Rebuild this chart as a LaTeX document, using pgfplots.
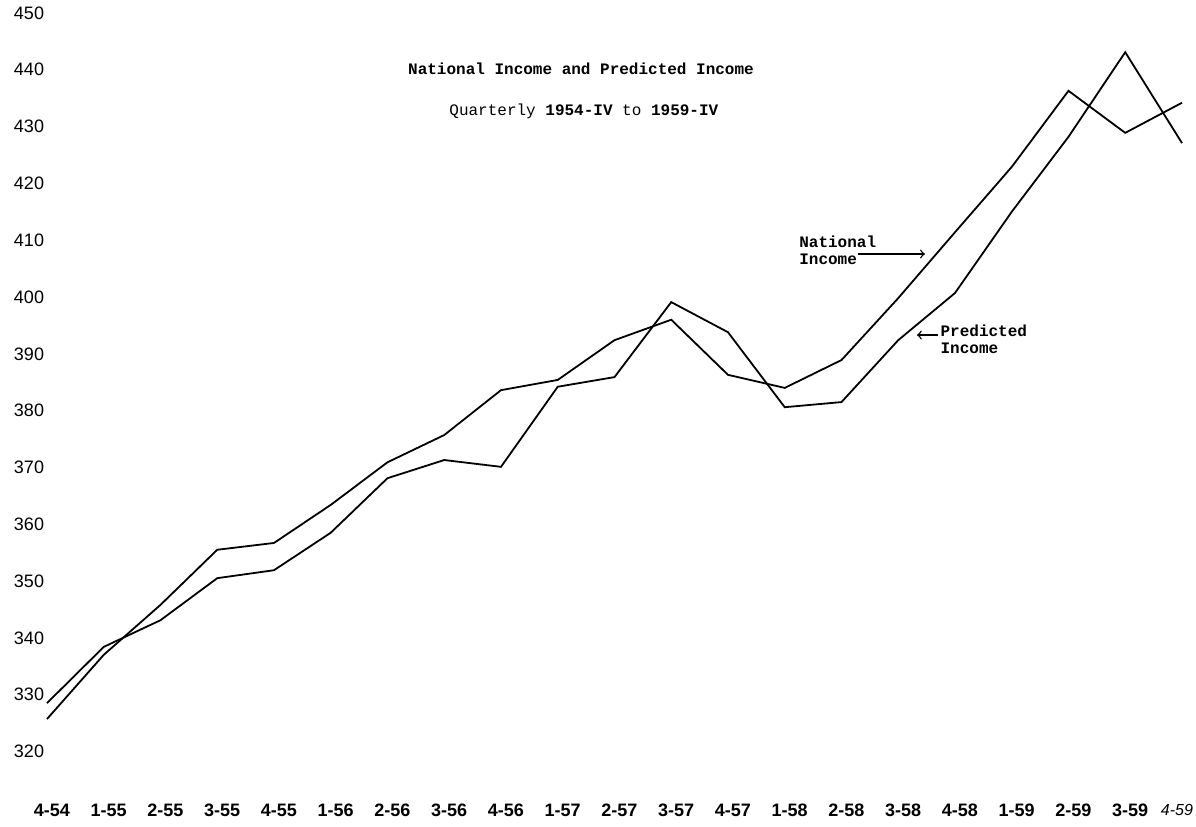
\documentclass[border=0pt]{standalone}
\usepackage{fontspec}
\setmainfont{Liberation Mono}
\newfontfamily\labelfont{Liberation Sans}
\usepackage{pgfplots}
\pgfplotsset{compat=1.18}
\begin{document}
\begin{tikzpicture}
\path[use as bounding box] (0,0) rectangle (598pt,413pt);
\begin{axis}[
  at={(0,0)}, anchor=south west,
  scale only axis, width=598pt, height=413pt,
  xmin=-0.828, xmax=20.247, ymin=306.87, ymax=452.29,
  axis line style={draw=none}, tick style={draw=none}, major tick length=0pt,
  clip=false,
  ytick={320,330,340,350,360,370,380,390,400,410,420,430,440,450},
  yticklabels={320,330,340,350,360,370,380,390,400,410,420,430,440,450},
  yticklabel style={anchor=center, xshift=14.5pt, font=\labelfont\fontsize{9}{10}\selectfont},
  xtick={0,1,2,3,4,5,6,7,8,9,10,11,12,13,14,15,16,17,18,19},
  xticklabels={4-54,1-55,2-55,3-55,4-55,1-56,2-56,3-56,4-56,1-57,2-57,3-57,4-57,1-58,2-58,3-58,4-58,1-59,2-59,3-59},
  xticklabel style={anchor=center, yshift=8pt, xshift=2.5pt, font=\labelfont\bfseries\fontsize{9}{10}\selectfont},
  extra x ticks={20},
  extra x tick labels={4-59},
  extra x tick style={xticklabel style={xshift=-5pt, font=\labelfont\itshape\fontsize{8}{9}\selectfont}},
]
% National Income
\addplot[black, line width=0.9pt, mark=none] coordinates {
(0,325.7) (1,337.0) (2,345.8) (3,355.5) (4,356.7) (5,363.4) (6,370.9) (7,375.7)
(8,383.6) (9,385.4) (10,392.4) (11,396.0) (12,386.3) (13,384.0) (14,388.9)
(15,399.8) (16,411.4) (17,422.9) (18,436.3) (19,428.9) (20,434.2)};
% Predicted Income
\addplot[black, line width=0.9pt, mark=none] coordinates {
(0,328.5) (1,338.4) (2,343.1) (3,350.5) (4,351.9) (5,358.5) (6,368.1) (7,371.3)
(8,370.1) (9,384.2) (10,385.9) (11,399.1) (12,393.8) (13,380.6) (14,381.5)
(15,392.4) (16,400.7) (17,415.0) (18,428.2) (19,443.1) (20,427.1)};
\node[font=\bfseries\fontsize{8}{9}\selectfont] at (axis cs:9.41,440.14) {National Income and Predicted Income};
\node[font=\fontsize{8}{9}\selectfont] at (axis cs:9.46,432.75) {Quarterly \textbf{1954-IV} to \textbf{1959-IV}};
\node[anchor=west, align=left, inner sep=0pt, font=\bfseries\fontsize{8}{8.6}\selectfont] at (axis cs:13.25,408.27) {National\\Income};
\draw[->, line width=0.7pt] (axis cs:14.29,407.57) -- (axis cs:15.47,407.57);
\node[anchor=west, align=left, inner sep=0pt, font=\bfseries\fontsize{8}{8.6}\selectfont] at (axis cs:15.74,392.52) {Predicted\\Income};
\draw[->, line width=0.7pt] (axis cs:15.70,393.31) -- (axis cs:15.33,393.31);
\end{axis}
\end{tikzpicture}
\end{document}
